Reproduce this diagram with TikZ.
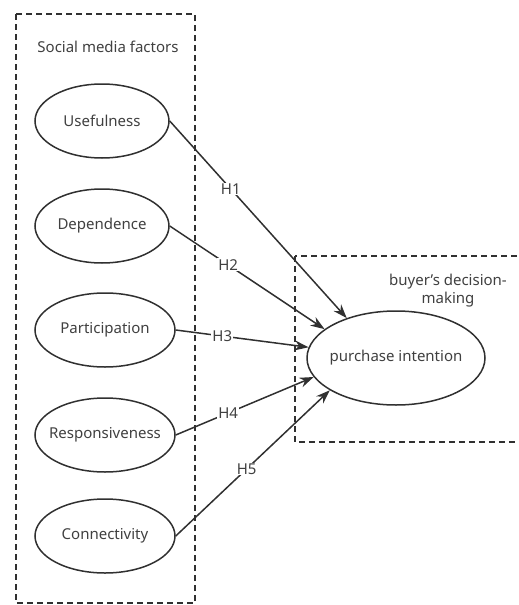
\documentclass[tikz,border=0pt]{standalone}
\usepackage{fontspec}
\setmainfont{Noto Sans}
\usetikzlibrary{arrows.meta,shapes.geometric}
\definecolor{ink}{HTML}{303030}
\definecolor{txt}{HTML}{404040}
\begin{document}
\begin{tikzpicture}[x=1pt,y=-1pt,
  factor/.style={draw=ink,line width=1.5pt,ellipse,minimum width=134pt,minimum height=74pt,inner xsep=-12pt,inner ysep=0pt,text=txt,font=\fontsize{15}{18}\selectfont},
  groupbox/.style={draw=ink,line width=1.6pt,dash pattern=on 6pt off 4pt},
  link/.style={draw=ink,line width=1.5pt,-{Stealth[length=14pt,width=10pt]}},
  hlab/.style={fill=white,inner sep=1pt,text=txt,font=\fontsize{15}{18}\selectfont},
  lab/.style={text=txt,font=\fontsize{15}{18}\selectfont,align=center}]
\useasboundingbox (0,0) rectangle (519,605);
\clip (0,0) rectangle (519,605);
\draw[groupbox] (16,14) rectangle (195,603);
\draw[groupbox] (295,256) rectangle (535,442);
\node[lab] (smf) at (108,47) {Social media factors};
\node[lab] (bdm) at (448,291) {buyer's decision-\\making};
\node[factor] (u) at (102,121) {Usefulness};
\node[factor] (d) at (102,226) {Dependence};
\node[factor,minimum width=140pt] (p) at (105,330) {Participation};
\node[factor,minimum width=140pt] (r) at (105,435) {Responsiveness};
\node[factor,minimum width=140pt] (c) at (105,536) {Connectivity};
\node[factor,minimum width=178pt,minimum height=94pt] (pi) at (396,358) {purchase intention};
\draw[link] (u.east) -- node[hlab,pos=0.345] {H1} (pi.141);
\draw[link] (d.east) -- node[hlab,pos=0.377] {H2} (pi.158);
\draw[link] (p.east) -- node[hlab,pos=0.35] {H3} (pi.173);
\draw[link] (r.east) -- node[hlab,pos=0.38] {H4} (pi.193);
\draw[link] (c.east) -- node[hlab,pos=0.46] {H5} (pi.206);
\end{tikzpicture}
\end{document}
